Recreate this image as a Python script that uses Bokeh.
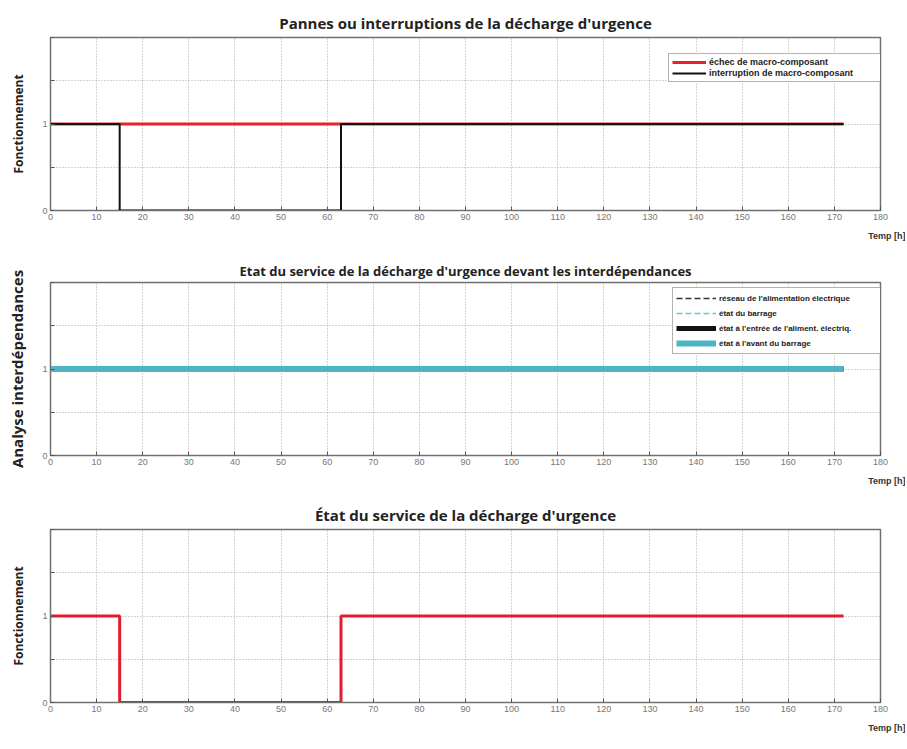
from bokeh.plotting import figure
from bokeh.layouts import column
from bokeh.models import FixedTicker, Legend, LegendItem, Title, Range1d
from bokeh.embed import file_html
from bokeh.resources import INLINE

# ---- data ----
x_ticks = list(range(0, 190, 10))
y_ticks = [0, 0.5, 1, 1.5, 2]
y_labels = {0: "0", 0.5: "", 1: "1", 1.5: "", 2: ""}

t_fail = [0, 172]
fail = [1, 1]

t_interrupt = [0, 15, 15, 63, 63, 172]
interrupt = [1, 1, 0, 0, 1, 1]

t_dep = [0, 172]
dep_reseau = [1, 1]
dep_barrage = [1, 1]
dep_entree = [1, 1]
dep_avant = [1, 1]

t_service = [0, 15, 15, 63, 63, 172]
service = [1, 1, 0, 0, 1, 1]

titles = [
    "Pannes ou interruptions de la décharge d'urgence",
    "Etat du service de la décharge d'urgence devant les interdépendances",
    "État du service de la décharge d'urgence",
]
ylabels = ["Fonctionnement", "Analyse interdépendances", "Fonctionnement"]
xlabel = "Temp [h]"

TITLE_FONT = "Open Sans"
GRID = "#a8a8a8"


def make_fig(title, ylabel, top, bottom, ylab_size, title_size, t_standoff, v_align):
    p = figure(frame_width=830, frame_height=173,
               min_border_left=50, min_border_right=25,
               min_border_top=top, min_border_bottom=bottom,
               x_range=Range1d(0, 180), y_range=Range1d(0, 2),
               output_backend="svg", toolbar_location=None,
               background_fill_color="white", border_fill_color="white")
    p.title.text = title
    p.title.align = "center"
    p.title.vertical_align = v_align
    p.title.text_font = TITLE_FONT
    p.title.text_font_size = title_size
    p.title.text_font_style = "bold"
    p.title.text_color = "#222222"
    p.title.standoff = t_standoff

    p.outline_line_color = "#707070"
    p.outline_line_width = 1.5

    p.xaxis.ticker = FixedTicker(ticks=x_ticks)
    p.yaxis.ticker = FixedTicker(ticks=y_ticks)
    p.yaxis.major_label_overrides = y_labels
    for ax in (p.xaxis, p.yaxis):
        ax.major_tick_in = 4
        ax.major_tick_out = 0
        ax.minor_tick_line_color = None
        ax.axis_line_color = "#707070"
        ax.major_tick_line_color = "#555555"
        ax.major_label_text_font = "Liberation Sans"
        ax.major_label_text_font_size = "9px"
        ax.major_label_text_color = "#777777"
        ax.major_label_standoff = 3
    p.yaxis.axis_label = ylabel
    p.yaxis.axis_label_text_font = TITLE_FONT
    p.yaxis.axis_label_text_font_size = ylab_size
    p.yaxis.axis_label_text_font_style = "bold"
    p.yaxis.axis_label_text_color = "#222222"
    p.yaxis.axis_label_standoff = 12

    p.xgrid.ticker = FixedTicker(ticks=x_ticks)
    p.ygrid.ticker = FixedTicker(ticks=[0.5, 1, 1.5])
    p.grid.grid_line_color = GRID
    p.grid.grid_line_dash = "1 2"
    p.grid.grid_line_width = 1

    xl = Title(text=xlabel, align="right", text_font="Liberation Sans",
               text_font_size="9px", text_font_style="bold",
               text_color="#333333", offset=-25, standoff=12)
    p.add_layout(xl, "below")
    return p


# ---- panel 1 ----
p1 = make_fig(titles[0], ylabels[0], 37, 42, "12px", "15px", 5, "top")
r_fail = p1.line(t_fail, fail, line_color="#e8222c", line_width=3)
r_int = p1.line(t_interrupt, interrupt, line_color="#111111", line_width=2)
leg1 = Legend(items=[LegendItem(label="échec de macro-composant", renderers=[r_fail]),
                     LegendItem(label="interruption de macro-composant", renderers=[r_int])],
              location=(618, 128))
p1.add_layout(leg1)

# ---- panel 2 ----
p2 = make_fig(titles[1], ylabels[1], 30, 42, "15px", "13px", 5, "bottom")
r_a = p2.line(t_dep, dep_reseau, line_color="#333333", line_width=1.5, line_dash="6 3")
r_b = p2.line(t_dep, dep_barrage, line_color="#66c8d8", line_width=1.5, line_dash="6 3")
r_c = p2.line(t_dep, dep_entree, line_color="#111111", line_width=5)
r_d = p2.line(t_dep, dep_avant, line_color="#4db6c2", line_width=6)
leg2 = Legend(items=[LegendItem(label="réseau de l'alimentation électrique", renderers=[r_a]),
                     LegendItem(label="état du barrage", renderers=[r_b]),
                     LegendItem(label="état à l'entrée de l'aliment. électriq.", renderers=[r_c]),
                     LegendItem(label="état à l'avant du barrage", renderers=[r_d])],
              location=(622, 101))
p2.add_layout(leg2)

# ---- panel 3 ----
p3 = make_fig(titles[2], ylabels[2], 32, 39, "12px", "15px", 5, "top")
p3.line(t_service, service, line_color="#e01e30", line_width=3)

for leg, lh, gw, fs, lw in ((leg1, 10, 34, "9px", 168), (leg2, 14, 40, "8px", 160)):
    leg.label_text_font = "Liberation Sans"
    leg.label_text_font_size = fs
    leg.label_text_font_style = "bold"
    leg.label_text_color = "#222222"
    leg.label_height = lh
    leg.glyph_height = lh
    leg.glyph_width = gw
    leg.label_width = lw
    leg.spacing = 1
    leg.padding = 3
    leg.margin = 0
    leg.label_standoff = 3
    leg.border_line_color = "#666666"
    leg.border_line_width = 1.5
    leg.background_fill_alpha = 1

layout = column(p1, p2, p3, spacing=0)
open("out.html", "w").write(file_html(layout, INLINE))
